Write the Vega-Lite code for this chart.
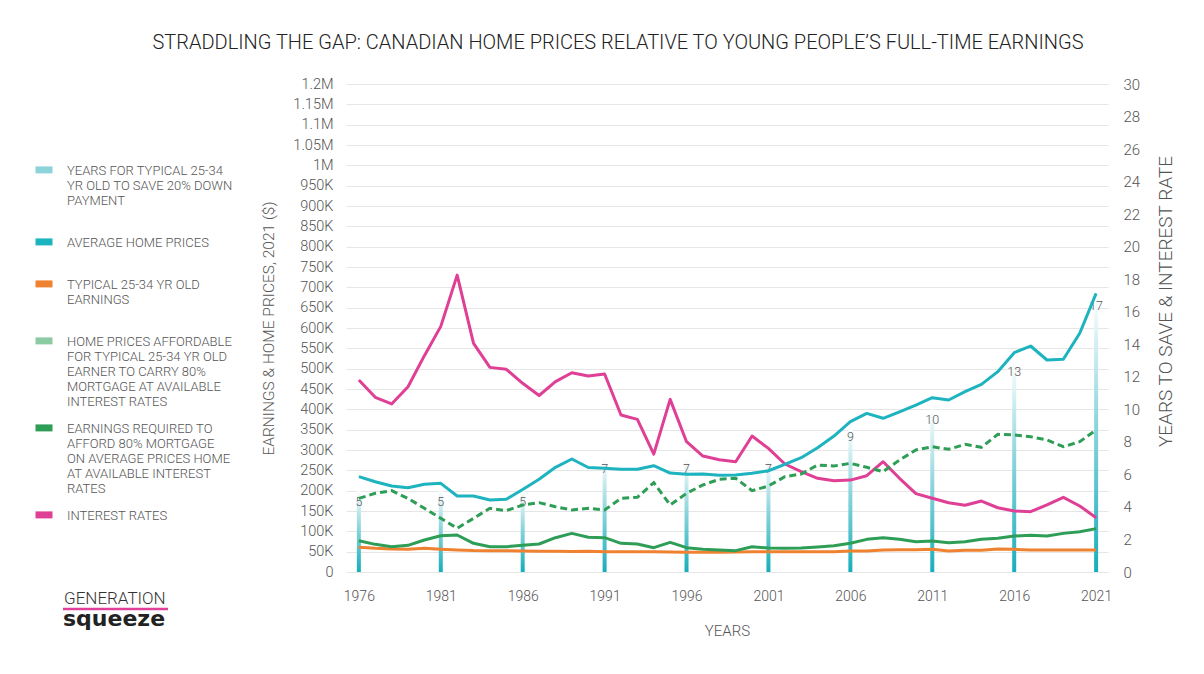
{
  "$schema": "https://vega.github.io/schema/vega-lite/v6.json",
  "width": 762,
  "height": 488,
  "autosize": {"type": "none"},
  "padding": {"left": 346, "top": 84, "right": 96, "bottom": 102},
  "background": "#ffffff",
  "config": {
    "view": {"stroke": null},
    "font": "Roboto",
    "style": {"guide-label": {"lineHeight": 15}},
    "axis": {"labelFont": "Roboto", "labelFontWeight": 300, "titleFont": "Roboto", "titleFontWeight": 300, "labelColor": "#555555", "titleColor": "#555555", "domain": false, "ticks": false}
  },
  "title": {
    "text": "STRADDLING THE GAP: CANADIAN HOME PRICES RELATIVE TO YOUNG PEOPLE’S FULL-TIME EARNINGS",
    "frame": "group",
    "anchor": "middle",
    "dx": -109,
    "offset": 23,
    "fontSize": 20,
    "fontWeight": 300,
    "font": "Roboto",
    "color": "#222222"
  },
  "datasets": {
    "series": [
      {"year": 1976, "price": 234400, "earnings": 60700, "afford": 181000, "required": 77000, "interest": 11.80},
      {"year": 1977, "price": 222000, "earnings": 58200, "afford": 193500, "required": 68000, "interest": 10.74},
      {"year": 1978, "price": 211500, "earnings": 56600, "afford": 200000, "required": 62200, "interest": 10.33},
      {"year": 1979, "price": 207400, "earnings": 55700, "afford": 181000, "required": 65600, "interest": 11.39},
      {"year": 1980, "price": 215600, "earnings": 58200, "afford": 156600, "required": 78700, "interest": 13.30},
      {"year": 1981, "price": 218000, "earnings": 55700, "afford": 132000, "required": 89300, "interest": 15.10},
      {"year": 1982, "price": 186900, "earnings": 54000, "afford": 107500, "required": 91000, "interest": 18.25},
      {"year": 1983, "price": 187000, "earnings": 52800, "afford": 132000, "required": 70500, "interest": 14.06},
      {"year": 1984, "price": 177000, "earnings": 52500, "afford": 156600, "required": 62200, "interest": 12.58},
      {"year": 1985, "price": 178700, "earnings": 52500, "afford": 150800, "required": 62200, "interest": 12.46},
      {"year": 1986, "price": 203000, "earnings": 51600, "afford": 164800, "required": 65600, "interest": 11.60},
      {"year": 1987, "price": 228000, "earnings": 51000, "afford": 170500, "required": 68900, "interest": 10.85},
      {"year": 1988, "price": 257400, "earnings": 51000, "afford": 160600, "required": 84400, "interest": 11.70},
      {"year": 1989, "price": 277900, "earnings": 50500, "afford": 152500, "required": 95000, "interest": 12.25},
      {"year": 1990, "price": 257000, "earnings": 50800, "afford": 156600, "required": 85300, "interest": 12.05},
      {"year": 1991, "price": 255000, "earnings": 50000, "afford": 152500, "required": 84400, "interest": 12.17},
      {"year": 1992, "price": 252500, "earnings": 49800, "afford": 181000, "required": 70500, "interest": 9.65},
      {"year": 1993, "price": 252500, "earnings": 50000, "afford": 183700, "required": 68900, "interest": 9.38},
      {"year": 1994, "price": 261400, "earnings": 49800, "afford": 219600, "required": 59800, "interest": 7.25},
      {"year": 1995, "price": 243400, "earnings": 49200, "afford": 164800, "required": 73000, "interest": 10.61},
      {"year": 1996, "price": 240200, "earnings": 48400, "afford": 193500, "required": 59800, "interest": 8.01},
      {"year": 1997, "price": 241000, "earnings": 48400, "afford": 214000, "required": 55700, "interest": 7.13},
      {"year": 1998, "price": 237800, "earnings": 48600, "afford": 228000, "required": 54000, "interest": 6.90},
      {"year": 1999, "price": 238500, "earnings": 49000, "afford": 230400, "required": 52500, "interest": 6.78},
      {"year": 2000, "price": 242700, "earnings": 50000, "afford": 200000, "required": 62200, "interest": 8.36},
      {"year": 2001, "price": 249000, "earnings": 50000, "afford": 211500, "required": 59000, "interest": 7.60},
      {"year": 2002, "price": 264800, "earnings": 50000, "afford": 234400, "required": 58200, "interest": 6.64},
      {"year": 2003, "price": 281000, "earnings": 50000, "afford": 241000, "required": 59000, "interest": 6.17},
      {"year": 2004, "price": 305700, "earnings": 50000, "afford": 263000, "required": 61500, "interest": 5.76},
      {"year": 2005, "price": 334400, "earnings": 50000, "afford": 260700, "required": 64800, "interest": 5.61},
      {"year": 2006, "price": 369600, "earnings": 51600, "afford": 267200, "required": 70500, "interest": 5.65},
      {"year": 2007, "price": 390000, "earnings": 51600, "afford": 257400, "required": 80300, "interest": 5.92},
      {"year": 2008, "price": 378000, "earnings": 54000, "afford": 246700, "required": 84400, "interest": 6.78},
      {"year": 2009, "price": 394000, "earnings": 54500, "afford": 275400, "required": 80300, "interest": 5.76},
      {"year": 2010, "price": 410600, "earnings": 55000, "afford": 300000, "required": 74600, "interest": 4.82},
      {"year": 2011, "price": 428600, "earnings": 55700, "afford": 308000, "required": 76200, "interest": 4.53},
      {"year": 2012, "price": 423000, "earnings": 51600, "afford": 301700, "required": 72000, "interest": 4.26},
      {"year": 2013, "price": 443400, "earnings": 53300, "afford": 314000, "required": 74600, "interest": 4.10},
      {"year": 2014, "price": 461500, "earnings": 53300, "afford": 306600, "required": 80300, "interest": 4.36},
      {"year": 2015, "price": 492600, "earnings": 56600, "afford": 338600, "required": 82800, "interest": 3.95},
      {"year": 2016, "price": 539300, "earnings": 55700, "afford": 336900, "required": 88500, "interest": 3.75},
      {"year": 2017, "price": 555700, "earnings": 54000, "afford": 332800, "required": 90200, "interest": 3.71},
      {"year": 2018, "price": 521300, "earnings": 54000, "afford": 324600, "required": 88500, "interest": 4.12},
      {"year": 2019, "price": 523000, "earnings": 54000, "afford": 308000, "required": 95000, "interest": 4.59},
      {"year": 2020, "price": 587000, "earnings": 54000, "afford": 320400, "required": 99200, "interest": 4.06},
      {"year": 2021, "price": 685300, "earnings": 54000, "afford": 349200, "required": 106600, "interest": 3.34}
    ],
    "save": [
      {"year": 1976, "years": 5},
      {"year": 1981, "years": 5},
      {"year": 1986, "years": 5},
      {"year": 1991, "years": 7},
      {"year": 1996, "years": 7},
      {"year": 2001, "years": 7},
      {"year": 2006, "years": 9},
      {"year": 2011, "years": 10},
      {"year": 2016, "years": 13},
      {"year": 2021, "years": 17}
    ]
  },
  "encoding": {
    "x": {
      "field": "year",
      "type": "quantitative",
      "scale": {"domain": [1975.52, 2021.42], "nice": false, "zero": false},
      "axis": {
        "values": [1976, 1981, 1986, 1991, 1996, 2001, 2006, 2011, 2016, 2021],
        "format": "d",
        "grid": false,
        "labelFontSize": 14,
        "labelPadding": 17,
        "title": "YEARS",
        "titleFontSize": 15,
        "titlePadding": 20
      }
    }
  },
  "layer": [
    {
      "layer": [
        {
          "data": {"name": "save"},
          "mark": {
            "type": "bar",
            "width": 4,
            "color": {
              "gradient": "linear",
              "x1": 0, "y1": 1, "x2": 0, "y2": 0,
              "stops": [
                {"offset": 0, "color": "#16AEBB"},
                {"offset": 0.55, "color": "#8FD6DD"},
                {"offset": 1, "color": "#FFFFFF"}
              ]
            }
          },
          "encoding": {
            "y": {
              "field": "years",
              "type": "quantitative",
              "scale": {"domain": [0, 30], "nice": false},
              "axis": {"orient": "right", "values": [0, 2, 4, 6, 8, 10, 12, 14, 16, 18, 20, 22, 24, 26, 28, 30], "grid": false, "labelFontSize": 15, "labelPadding": 15, "title": "YEARS TO SAVE & INTEREST RATE", "titleFontSize": 19, "titlePadding": 17, "titleAngle": 270, "titleBaseline": "top", "titleY": 217}
            }
          }
        },
        {
          "data": {"name": "save"},
          "mark": {"type": "text", "dy": 11, "color": "#555555", "font": "Roboto", "fontWeight": 300, "fontSize": 12.5, "strokeWidth": 0},
          "encoding": {
            "y": {
              "field": "years",
              "type": "quantitative",
              "axis": {"orient": "right", "values": [0, 2, 4, 6, 8, 10, 12, 14, 16, 18, 20, 22, 24, 26, 28, 30], "grid": false, "labelFontSize": 15, "labelPadding": 15, "title": "YEARS TO SAVE & INTEREST RATE", "titleFontSize": 19, "titlePadding": 17, "titleAngle": 270, "titleBaseline": "top", "titleY": 217}
            },
            "text": {"field": "years", "type": "quantitative"},
            "stroke": {
              "datum": "squeeze",
              "type": "nominal",
              "scale": {"range": ["#E0409A"]},
              "legend": {
                "orient": "none",
                "legendX": -282,
                "legendY": 507,
                "padding": 0,
                "title": "GENERATION",
                "titleFont": "Roboto",
                "titleFontWeight": 300,
                "titleFontSize": 17,
                "titleColor": "#333333",
                "titlePadding": 0,
                "labelFont": "DejaVu Sans",
                "labelFontWeight": "bold",
                "labelFontSize": 22,
                "labelColor": "#222222",
                "labelOffset": -23,
                "symbolSize": 4,
                "symbolType": "M-12,-10L93,-10",
                "symbolStrokeWidth": 2.5,
                "symbolFillColor": "transparent"
              }
            }
          }
        },
        {
          "data": {"name": "series"},
          "transform": [{"fold": ["interest"], "as": ["series", "value"]}],
          "mark": {"type": "line", "strokeWidth": 3, "strokeJoin": "round"},
          "encoding": {
            "y": {
              "field": "value",
              "type": "quantitative",
              "axis": {"orient": "right", "values": [0, 2, 4, 6, 8, 10, 12, 14, 16, 18, 20, 22, 24, 26, 28, 30], "grid": false, "labelFontSize": 15, "labelPadding": 15, "title": "YEARS TO SAVE & INTEREST RATE", "titleFontSize": 19, "titlePadding": 17, "titleAngle": 270, "titleBaseline": "top", "titleY": 217}
            },
            "color": {
              "field": "series",
              "type": "nominal",
              "scale": {
                "domain": ["years", "price", "earnings", "afford", "required", "interest"],
                "range": ["#8CD3DA", "#1DB3BF", "#EF8230", "#8CCBA2", "#2E9E57", "#DF3F95"]
              },
              "legend": {
                "orient": "none",
                "legendX": -314,
                "legendY": 79,
                "padding": 0,
                "title": null,
                "labelExpr": "datum.value === 'years' ? ['YEARS FOR TYPICAL 25-34', 'YR OLD TO SAVE 20% DOWN', 'PAYMENT', ''] : datum.value === 'price' ? ['AVERAGE HOME PRICES', ''] : datum.value === 'earnings' ? ['TYPICAL 25-34 YR OLD', 'EARNINGS', ''] : datum.value === 'afford' ? ['HOME PRICES AFFORDABLE', 'FOR TYPICAL 25-34 YR OLD', 'EARNER TO CARRY 80%', 'MORTGAGE AT AVAILABLE', 'INTEREST RATES'] : datum.value === 'required' ? ['EARNINGS REQUIRED TO', 'AFFORD 80% MORTGAGE', 'ON AVERAGE PRICES HOME', 'AT AVAILABLE INTEREST', 'RATES'] : ['INTEREST RATES']",
                "labelFont": "Roboto",
                "labelFontWeight": 300,
                "labelFontSize": 13,
                "labelColor": "#555555",
                "labelLimit": 260,
                "labelOffset": 11,
                "labelBaseline": "alphabetic",
                "rowPadding": 4,
                "symbolSize": 289,
                "symbolType": "M-1,-0.6L1,-0.6",
                "symbolStrokeWidth": 7
              }
            }
          }
        }
      ]
    },
    {
      "data": {"name": "series"},
      "transform": [{"fold": ["price", "earnings", "afford", "required"], "as": ["series", "value"]}],
      "layer": [
        {
          "transform": [{"filter": "datum.series !== 'afford'"}],
          "mark": {"type": "line", "strokeWidth": 3, "strokeJoin": "round"},
          "encoding": {
            "y": {
              "field": "value",
              "type": "quantitative",
              "scale": {"domain": [0, 1200000], "nice": false},
              "axis": {"orient": "left", "values": [0, 50000, 100000, 150000, 200000, 250000, 300000, 350000, 400000, 450000, 500000, 550000, 600000, 650000, 700000, 750000, 800000, 850000, 900000, 950000, 1000000, 1050000, 1100000, 1150000, 1200000], "labelExpr": "datum.value >= 1000000 ? (datum.value / 1000000) + 'M' : datum.value == 0 ? '0' : (datum.value / 1000) + 'K'", "grid": true, "gridColor": "#E6E6E6", "gridWidth": 1, "labelFontSize": 14.5, "labelPadding": 13, "title": "EARNINGS & HOME PRICES, 2021 ($)", "titleFontSize": 15.5, "titlePadding": 16}
            },
            "color": {"field": "series", "type": "nominal"}
          }
        },
        {
          "transform": [{"filter": "datum.series === 'afford'"}],
          "mark": {"type": "line", "strokeWidth": 3, "strokeDash": [7, 4], "color": "#2E9E57"},
          "encoding": {
            "y": {
              "field": "value",
              "type": "quantitative",
              "axis": {"orient": "left", "values": [0, 50000, 100000, 150000, 200000, 250000, 300000, 350000, 400000, 450000, 500000, 550000, 600000, 650000, 700000, 750000, 800000, 850000, 900000, 950000, 1000000, 1050000, 1100000, 1150000, 1200000], "labelExpr": "datum.value >= 1000000 ? (datum.value / 1000000) + 'M' : datum.value == 0 ? '0' : (datum.value / 1000) + 'K'", "grid": true, "gridColor": "#E6E6E6", "gridWidth": 1, "labelFontSize": 14.5, "labelPadding": 13, "title": "EARNINGS & HOME PRICES, 2021 ($)", "titleFontSize": 15.5, "titlePadding": 16}
            }
          }
        }
      ]
    }
  ],
  "resolve": {"scale": {"y": "independent"}}
}
